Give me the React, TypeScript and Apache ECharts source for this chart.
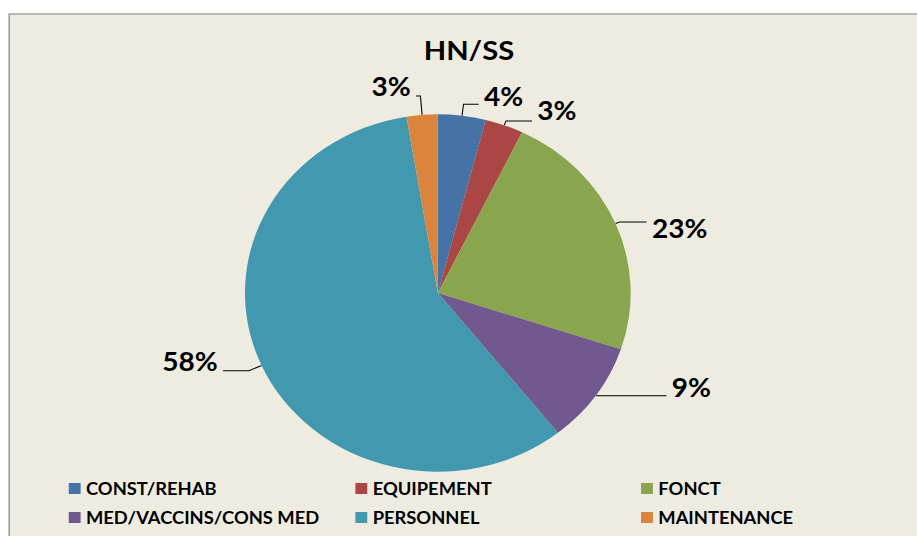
import React, { useEffect, useRef } from 'react';
import * as echarts from 'echarts';

// ---- data ----
const chartTitle = 'HN/SS';
const categories = [
  'CONST/REHAB',
  'EQUIPEMENT',
  'FONCT',
  'MED/VACCINS/CONS MED',
  'PERSONNEL',
  'MAINTENANCE',
];
const values = [4.0, 3.2, 22.9, 9.2, 58.1, 2.6];

// ---- styles ----
const palette = ['#4572A7', '#AA4643', '#89A54E', '#71588F', '#4198AF', '#DB843D'];
const FONT = 'Lato, "Open Sans", "DejaVu Sans", sans-serif';

// the reference pie is horizontally stretched (ellipse); reproduce via CSS scaleX
const SX = 1.0792;
const PAGE_W = 917;
const PAGE_H = 536;
const CHART_W = PAGE_W / SX;

// leader-line tweaks per slice (same order as categories)
const labelTweaks = [
  { length: 11.5, length2: 14, padding: [0, 0, 16, 0] },
  { length: 4.6, length2: 24, padding: [0, 0, 22, 0] },
  { length: 4, length2: 25, padding: [12, 0, 0, 0] },
  { length: 1, length2: 64.5, padding: [0, 0, 18, 0] },
  { length: 12.8, length2: 24, padding: [0, 0, 20, 0] },
  { length: 19, length2: 4, padding: [0, 0, 20, 0] },
];

const legendColumns = [
  { items: [0, 3], left: 63.7 },
  { items: [1, 4], left: 329.3 },
  { items: [2, 5], left: 594 },
];

export default function App() {
  const ref = useRef<HTMLDivElement>(null);

  useEffect(() => {
    if (!ref.current) return;
    const chart = echarts.init(ref.current, null, { renderer: 'svg' });

    const labelFont = {
      fontFamily: FONT,
      fontWeight: 'bold' as const,
      fontSize: 26,
      color: '#000',
    };
    const rich: Record<string, any> = {};
    labelTweaks.forEach((t, i) => {
      rich['r' + i] = { ...labelFont, padding: t.padding };
    });

    const data = categories.map((name, i) => ({
      name,
      value: values[i],
      itemStyle: { color: palette[i] },
      labelLine: { length: labelTweaks[i].length, length2: labelTweaks[i].length2 },
    }));

    chart.setOption({
      animation: false,
      backgroundColor: 'transparent',
      graphic: [
        {
          type: 'rect',
          silent: true,
          z: -10,
          shape: { x: 8.5, y: 14, width: 900, height: 600 },
          style: { fill: '#EEECE1', stroke: '#A3A3A3', lineWidth: 1.6 },
        },
      ],
      title: {
        text: chartTitle,
        left: 434.5,
        top: 36,
        padding: 0,
        textAlign: 'center',
        textStyle: {
          fontFamily: FONT,
          fontWeight: 'bold',
          fontSize: 27,
          color: '#000',
        },
      },
      legend: legendColumns.map((col) => ({
        data: col.items.map((i) => categories[i]),
        left: col.left,
        top: 480,
        orient: 'vertical',
        padding: 0,
        itemGap: 12,
        itemWidth: 11,
        itemHeight: 11,
        icon: 'rect',
        selectedMode: false,
        textStyle: {
          fontFamily: FONT,
          fontWeight: 'bold',
          fontSize: 17,
          color: '#000',
        },
      })),
      series: [
        {
          type: 'pie',
          center: [405.7, 293],
          radius: 178.7,
          startAngle: 90,
          clockwise: true,
          avoidLabelOverlap: false,
          itemStyle: { borderWidth: 0 },
          emphasis: { disabled: true },
          label: {
            show: true,
            position: 'outside',
            distanceToLabelLine: 5,
            ...labelFont,
            formatter: (p: any) => '{r' + p.dataIndex + '|' + Math.round(p.percent) + '%}',
            rich,
          },
          labelLine: {
            show: true,
            smooth: false,
            lineStyle: { color: '#000', width: 1 },
          },
          data,
        },
      ],
    });

    return () => chart.dispose();
  }, []);

  return (
    <div
      style={{
        position: 'fixed',
        left: 0,
        top: 0,
        width: PAGE_W,
        height: PAGE_H,
        overflow: 'hidden',
        background: '#ffffff',
      }}
    >
      <div
        ref={ref}
        style={{
          width: CHART_W,
          height: PAGE_H,
          transform: `scaleX(${SX})`,
          transformOrigin: '0 0',
        }}
      />
    </div>
  );
}
